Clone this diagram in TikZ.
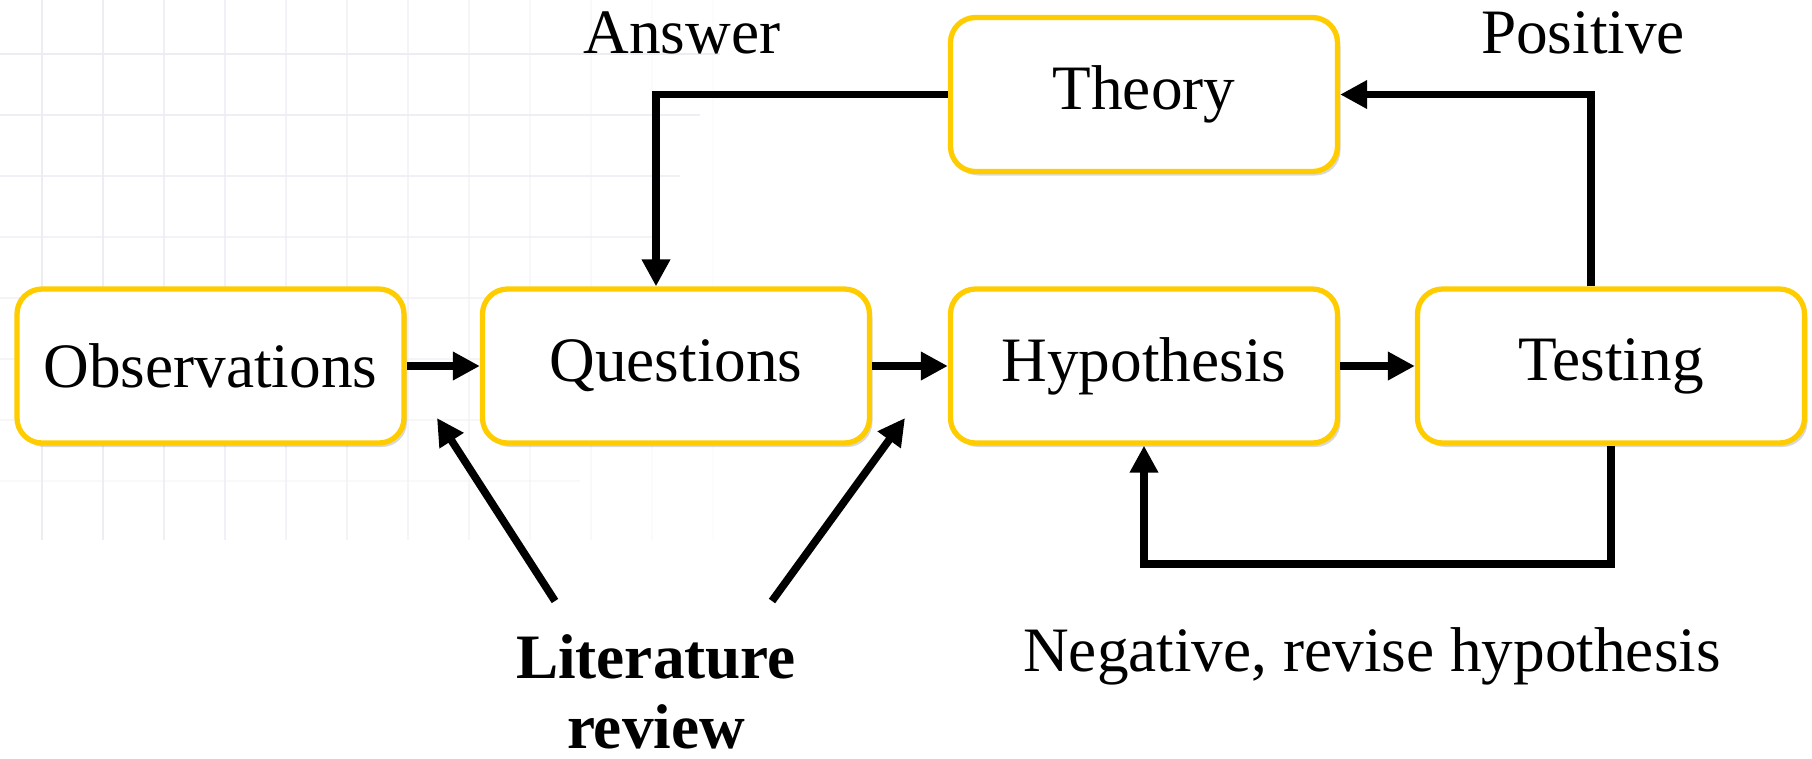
\documentclass[tikz,border=0pt]{standalone}
\usepackage{fontspec}
\setmainfont{Liberation Serif}
\usetikzlibrary{arrows.meta,shadows}
\definecolor{boxyellow}{RGB}{255,204,0}
\definecolor{gridgray}{RGB}{236,236,243}

\begin{document}
\begin{tikzpicture}[
    font=\fontsize{18}{20}\selectfont,
    stage/.style={draw=boxyellow, line width=1.5pt, fill=white, rounded corners=0.25cm,
        minimum width=3.87cm, minimum height=1.54cm,
        drop shadow={shadow xshift=0.03cm, shadow yshift=-0.04cm, opacity=0.3}},
    flow/.style={line width=2.2pt, -{Triangle[length=0.27cm, width=0.27cm]}}
]
    \useasboundingbox (0, 0) rectangle (18.12, -7.58);

    \foreach \k [evaluate=\k as \op using 1-\k/13] in {0,...,11}
        \draw[gridgray, line width=0.8pt, opacity=\op] (0.42+0.61*\k, 0) -- (0.42+0.61*\k, -5.4);
    \foreach \k [evaluate=\k as \op using 1-\k/10] in {0,...,7}
        \draw[gridgray, line width=0.8pt, opacity=\op] (0, -0.54-0.61*\k) -- (7.2-0.2*\k, -0.54-0.61*\k);

    \node[stage] (obs) at (2.105, -3.66) {Observations};
    \node[stage] (ques) at (6.76, -3.66) {Questions};
    \node[stage] (hyp) at (11.44, -3.66) {Hypothesis};
    \node[stage] (test) at (16.11, -3.66) {Testing};
    \node[stage] (theory) at (11.44, -0.945) {Theory};

    \node (answer) at (6.82, -0.33) {Answer};
    \node (positive) at (15.83, -0.33) {Positive};
    \node (negative) at (13.72, -6.56) {Negative, revise hypothesis};
    \node[font=\fontsize{18}{20}\selectfont\bfseries, align=center] (litrev) at (6.56, -6.92) {Literature\\review};

    \draw[flow] (obs) -- (ques);
    \draw[flow] (ques) -- (hyp);
    \draw[flow] (hyp) -- (test);
    \draw[flow] (theory.west) -| ([xshift=-0.2cm]ques.north);
    \draw[flow] ([xshift=-0.2cm]test.north) |- (theory.east);
    \draw[flow] (test.south) -- ++(0, -1.18) -| (hyp.south);

    \coordinate (litL) at (5.55, -6.01);
    \coordinate (litR) at (7.72, -6.01);
    \coordinate (gapL) at (4.37, -4.18);
    \coordinate (gapR) at (9.05, -4.18);
    \draw[flow] (litL) -- (gapL);
    \draw[flow] (litR) -- (gapR);
\end{tikzpicture}
\end{document}
